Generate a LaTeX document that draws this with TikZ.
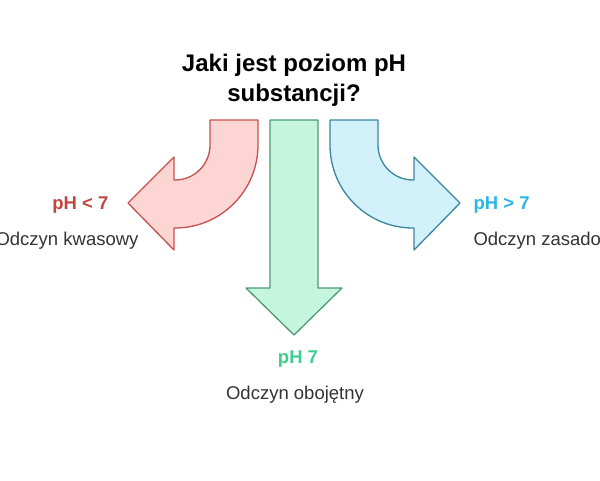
\documentclass[tikz,border=0pt]{standalone}
\usepackage{fontspec}
\setmainfont{Liberation Sans}
\begin{document}
\begin{tikzpicture}[x=1pt,y=-1pt,
  arr/.style={line width=1.3pt,line join=round},
  lab/.style={font=\fontsize{18.5}{20}\selectfont\bfseries},
  txt/.style={font=\fontsize{18.5}{20}\selectfont,text=black!80}]
\definecolor{rf}{HTML}{FDD5D3}\definecolor{rs}{HTML}{C8504E}
\definecolor{gf}{HTML}{C5F5DE}\definecolor{gs}{HTML}{4E9A72}
\definecolor{bf}{HTML}{D3F1FB}\definecolor{bs}{HTML}{3A86A0}
\definecolor{rt}{HTML}{C0463F}\definecolor{gt}{HTML}{3ECF8E}\definecolor{bt}{HTML}{2CB5E8}
\path[use as bounding box] (0,0) rectangle (600,480);
\node[font=\fontsize{24}{30}\selectfont\bfseries,align=center] (title) at (294,80) {Jaki jest poziom pH\\substancji?};
% red
\draw[arr,draw=rs,fill=rf] (210,120) -- (210,145) arc[start angle=0,end angle=90,radius=35] -- (174,180) -- (174,157) -- (128,203) -- (174,250) -- (174,228) -- (175,228) arc[start angle=90,end angle=0,radius=83] -- (258,120) -- cycle;
% blue
\draw[arr,draw=bs,fill=bf] (378,120) -- (378,145) arc[start angle=180,end angle=90,radius=35] -- (414,180) -- (414,157) -- (460,203) -- (414,250) -- (414,228) -- (413,228) arc[start angle=90,end angle=180,radius=83] -- (330,120) -- cycle;
% green
\draw[arr,draw=gs,fill=gf] (270,120) -- (270,288) -- (246,288) -- (294,335) -- (342,288) -- (318,288) -- (318,120) -- cycle;
\node[lab,text=rt,anchor=east] (l1) at (112,205) {pH < 7};
\node[txt,anchor=east] (l2) at (142,241) {Odczyn kwasowy};
\node[lab,text=bt,anchor=west] (r1) at (470,205) {pH > 7};
\node[txt,anchor=west] (r2) at (470,241) {Odczyn zasadowy};
\node[lab,text=gt] (c1) at (298,359) {pH 7};
\node[txt] (c2) at (295,395) {Odczyn obojętny};
\end{tikzpicture}
\end{document}
